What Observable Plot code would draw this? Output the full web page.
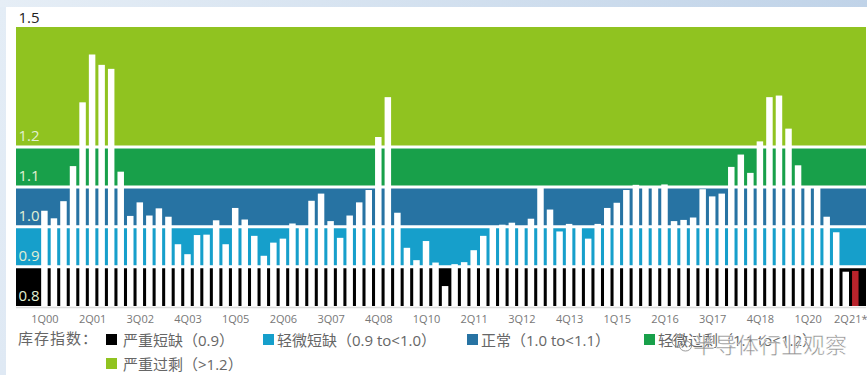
<!DOCTYPE html>
<html>
<head>
<meta charset="utf-8">
<script src="https://cdn.jsdelivr.net/npm/d3@7"></script>
<script src="https://cdn.jsdelivr.net/npm/@observablehq/plot@0.6"></script>
<style>
  html, body { margin: 0; padding: 0; width: 867px; height: 375px; overflow: hidden; background: #fff; }
  body { position: relative; font-family: "Open Sans", "Noto Sans CJK SC", sans-serif; }
  #edge-left { position: absolute; left: 0; top: 0; width: 6px; height: 375px; background: linear-gradient(#e4edf6, #dfe9f4); }
  #edge-top { position: absolute; left: 0; top: 0; width: 867px; height: 7px; background: linear-gradient(to right, #e6eef6, #c0d3e8); }
  #chart { position: absolute; left: 0; top: 0; }
  .legend { position: absolute; color: #666; font-size: 15px; line-height: 20px; white-space: nowrap; }
  .legend i { position: absolute; left: 0; top: 4px; width: 11px; height: 11px; }
  .watermark { position: absolute; left: 693px; top: 329px; font: 22px/28px "Noto Sans CJK SC"; color: rgba(125,125,125,.85); -webkit-text-stroke: .5px #fff; white-space: nowrap; }
  .watermark-icon { position: absolute; left: 671px; top: 333px; }
</style>
</head>
<body>
<div id="edge-left"></div>
<div id="edge-top"></div>
<div id="chart"></div>
<svg class="watermark-icon" width="22" height="22" viewBox="0 0 22 22">
  <ellipse cx="8.5" cy="8" rx="7.5" ry="6.5" fill="rgba(255,255,255,.8)" stroke="#999" stroke-width="1"/>
  <ellipse cx="14.5" cy="13" rx="6" ry="5" fill="rgba(255,255,255,.85)" stroke="#999" stroke-width="1"/>
</svg>
<script>
const quarters = [
  "1Q00","2Q00","3Q00","4Q00","1Q01","2Q01","3Q01","4Q01","1Q02","2Q02","3Q02","4Q02",
  "1Q03","2Q03","3Q03","4Q03","1Q04","2Q04","3Q04","4Q04","1Q05","2Q05","3Q05","4Q05",
  "1Q06","2Q06","3Q06","4Q06","1Q07","2Q07","3Q07","4Q07","1Q08","2Q08","3Q08","4Q08",
  "1Q09","2Q09","3Q09","4Q09","1Q10","2Q10","3Q10","4Q10","1Q11","2Q11","3Q11","4Q11",
  "1Q12","2Q12","3Q12","4Q12","1Q13","2Q13","3Q13","4Q13","1Q14","2Q14","3Q14","4Q14",
  "1Q15","2Q15","3Q15","4Q15","1Q16","2Q16","3Q16","4Q16","1Q17","2Q17","3Q17","4Q17",
  "1Q18","2Q18","3Q18","4Q18","1Q19","2Q19","3Q19","4Q19","1Q20","2Q20","3Q20","4Q20",
  "1Q21","2Q21"
];
const inventoryIndex = [
  1.039,1.020,1.063,1.151,1.311,1.431,1.405,1.395,1.137,1.026,1.060,1.027,
  1.045,1.024,0.955,0.930,0.978,0.979,1.015,0.955,1.046,1.017,0.976,0.926,
  0.959,0.969,1.007,1.000,1.064,1.082,1.013,0.971,1.027,1.060,1.091,1.224,
  1.324,1.034,0.946,0.915,0.963,0.909,0.850,0.905,0.910,0.940,0.976,0.996,
  1.004,1.009,0.999,1.019,1.096,1.042,0.987,1.006,0.999,0.969,1.006,1.046,
  1.059,1.091,1.104,1.098,1.098,1.105,1.013,1.016,1.022,1.093,1.075,1.082,
  1.149,1.180,1.134,1.213,1.324,1.328,1.245,1.153,1.098,1.098,1.024,0.985,
  0.886,0.888
];
const tickQuarters = ["1Q00","2Q01","3Q02","4Q03","1Q05","2Q06","3Q07","4Q08","1Q10","2Q11","3Q12","4Q13","1Q15","2Q16","3Q17","4Q18","1Q20"];
const bandFrom = [0.8, 0.9, 1.0, 1.1, 1.2];
const bandTo = [0.9, 1.0, 1.1, 1.2, 1.5];
const bandColors = ["#000000", "#169fcb", "#2773a3", "#18a04a", "#90c320"];
const levelLabels = [0.8, 0.9, 1.0, 1.1, 1.2];
const legendIntro = "库存指数：";
const legendNames = ["严重短缺（0.9）", "轻微短缺（0.9 to<1.0）", "正常（1.0 to<1.1）", "轻微过剩（1.1 to<1.2）", "严重过剩（>1.2）"];
const legendLeft = [106, 263, 467, 644, 106];
const legendTop = [330, 330, 330, 330, 354];
const forecastQuarter = "2Q21";

const rows = quarters.map((q, i) => ({q, value: inventoryIndex[i]}));
const bands = bandFrom.map((from, i) => ({from, to: bandTo[i], color: bandColors[i]}));
const boundaries = [0.9, 1.0, 1.1, 1.2];
const step = 9.54;
const axisFont = 11;

const plot = Plot.plot({
  width: 867,
  height: 330,
  marginLeft: 16,
  marginRight: 1,
  marginTop: 27,
  marginBottom: 24,
  style: {background: "transparent", fontFamily: "'Open Sans', sans-serif"},
  x: {type: "band", domain: quarters, range: [44.4 - step / 2, 855.3 + step / 2], paddingInner: 0.32, paddingOuter: 0.16, align: 0.5, label: null},
  y: {domain: [0.8, 1.5], label: null, axis: null},
  marks: [
    Plot.rect(bands, {y1: "from", y2: "to", fill: "color"}),
    Plot.ruleY(boundaries, {stroke: "#fff", strokeWidth: 3}),
    Plot.barY(rows.filter(d => d.q !== forecastQuarter), {x: "q", y1: 0.8, y2: "value", fill: "#fff"}),
    Plot.barY(rows.filter(d => d.q === forecastQuarter), {x: "q", y1: 0.8, y2: "value", fill: "#b9232b"}),
    Plot.ruleY([0.8], {stroke: "#dcdcdc", strokeWidth: 1.5, dy: 1}),
    Plot.axisX({ticks: tickQuarters, tickSize: 0, tickPadding: 9, fontSize: axisFont, color: "#777", label: null, anchor: "bottom"}),
    Plot.text([forecastQuarter], {x: d => d, frameAnchor: "bottom", dy: 16, dx: -5, text: () => "2Q21*", fontSize: axisFont, fill: "#777"}),
    Plot.text(levelLabels, {y: d => d, frameAnchor: "left", textAnchor: "start", dx: 2, dy: -10.5, text: d => d.toFixed(1), fontSize: 15, fill: "#e2f0d4"}),
    Plot.text([1.5], {y: d => d, frameAnchor: "left", textAnchor: "start", dx: 2, dy: -9, text: d => d.toFixed(1), fontSize: 15, fill: "#222"})
  ]
});
document.getElementById("chart").appendChild(plot);

// Legend rows under the chart
const intro = document.createElement("div");
intro.className = "legend";
intro.textContent = legendIntro;
intro.style.left = "18px";
intro.style.top = "328px";
intro.style.letterSpacing = "1px";
document.body.appendChild(intro);
legendNames.forEach((name, i) => {
  const el = document.createElement("div");
  el.className = "legend";
  el.style.left = legendLeft[i] + "px";
  el.style.top = legendTop[i] + "px";
  el.style.paddingLeft = (i === 0 || i === 4 ? 17 : 14) + "px";
  el.innerHTML = `<i style="background:${bandColors[i]}"></i>`;
  el.appendChild(document.createTextNode(name));
  document.body.appendChild(el);
});

const mark = document.createElement("div");
mark.className = "watermark";
mark.textContent = "半导体行业观察";
document.body.appendChild(mark);
</script>
</body>
</html>
